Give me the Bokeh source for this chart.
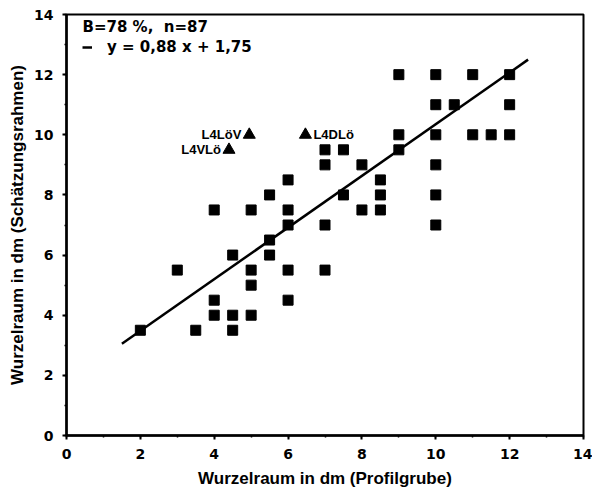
from bokeh.plotting import figure
from bokeh.models import Legend, LegendItem, Label, FixedTicker
from bokeh.embed import file_html
from bokeh.resources import INLINE
from bokeh.core.properties import value

# --- data ---
sq_x = [2, 3, 3.5, 4, 4, 4, 4.5, 4.5, 4.5, 5, 5, 5, 5, 5.5, 5.5, 5.5, 6, 6, 6, 6, 6,
        7, 7, 7, 7, 7.5, 7.5, 8, 8, 8.5, 8.5, 8.5, 9, 9, 9,
        10, 10, 10, 10, 10, 10, 10.5, 11, 11, 11.5, 12, 12, 12]
sq_y = [3.5, 5.5, 3.5, 4.5, 4, 7.5, 6, 4, 3.5, 5.5, 5, 4, 7.5, 6.5, 6, 8, 5.5, 4.5, 8.5, 7.5, 7,
        5.5, 9.5, 9, 7, 9.5, 8, 9, 7.5, 8.5, 8, 7.5, 12, 10, 9.5,
        12, 11, 10, 9, 8, 7, 11, 12, 10, 10, 12, 11, 10]

tri_x = [4.95, 4.4, 6.47]
tri_y = [10, 9.5, 10]
tri_labels = ["L4LöV", "L4VLö", "L4DLö"]

line_x = [1.5, 12.5]
line_y = [3.05, 12.5]

stats_text = "B=78 %,\u00a0\u00a0n=87"
eq_text = "y = 0,88 x + 1,75"

x_ticks = [0, 2, 4, 6, 8, 10, 12, 14]
y_ticks = [0, 2, 4, 6, 8, 10, 12, 14]

FONT = "Liberation Sans"
FONT2 = "DejaVu Sans"

TOP, BOTTOM = 14, 55
H = 490
FH = H - TOP - BOTTOM

p = figure(width=592, height=H, x_range=(0, 14), y_range=(0, 14),
           output_backend="svg", toolbar_location=None,
           min_border_left=66, min_border_right=9, min_border_top=TOP, min_border_bottom=BOTTOM)

p.xgrid.visible = False
p.ygrid.visible = False
p.outline_line_color = "black"
p.outline_line_width = 2
p.outline_line_alpha = 1

for ax in (p.xaxis[0], p.yaxis[0]):
    ax.axis_line_width = 2.5
    ax.axis_line_color = "black"
    ax.major_tick_line_color = "black"
    ax.major_tick_line_width = 2
    ax.major_tick_out = 4
    ax.major_tick_in = 0
    ax.minor_tick_line_color = "black"
    ax.minor_tick_line_width = 1.5
    ax.minor_tick_out = 2
    ax.minor_tick_in = 0
    ax.major_label_text_font = FONT2
    ax.major_label_text_font_style = "bold"
    ax.major_label_text_font_size = "14px"
    ax.major_label_text_color = "black"
    ax.axis_label_text_font = FONT
    ax.axis_label_text_font_style = "bold"
    ax.axis_label_text_color = "black"

p.xaxis[0].axis_label_text_font_size = "17px"
p.yaxis[0].axis_label_text_font_size = "17px"
p.xaxis[0].ticker = FixedTicker(ticks=x_ticks, minor_ticks=list(range(0, 15)))
p.yaxis[0].ticker = FixedTicker(ticks=y_ticks, minor_ticks=list(range(0, 15)))
p.xaxis[0].axis_label = "Wurzelraum in dm (Profilgrube)"
p.yaxis[0].axis_label = "Wurzelraum in dm (Schätzungsrahmen)"
p.xaxis[0].axis_label_standoff = 7
p.yaxis[0].axis_label_standoff = 4
p.xaxis[0].major_label_standoff = 9
p.yaxis[0].major_label_standoff = 9

reg = p.line(line_x, line_y, line_color="black", line_width=2.5)

p.scatter(sq_x, sq_y, marker="square", size=10, fill_color="black", line_color="black")
p.scatter(tri_x, tri_y, marker="triangle", size=12, fill_color="black", line_color="black")

p.text(tri_x[:2], tri_y[:2], text=tri_labels[:2], text_align="right", text_baseline="middle",
       x_offset=-8, text_font=value(FONT), text_font_style="bold", text_font_size="13px",
       text_color="black")
p.text(tri_x[2:], tri_y[2:], text=tri_labels[2:], text_align="left", text_baseline="middle",
       x_offset=8, text_font=value(FONT), text_font_style="bold", text_font_size="13px",
       text_color="black")

stats = Label(x=16, y=FH - 12, x_units="screen", y_units="screen", text=stats_text,
              text_font=FONT2, text_font_style="bold", text_font_size="15px",
              text_baseline="middle", text_color="black")
p.add_layout(stats)

legend = Legend(items=[LegendItem(label=eq_text, renderers=[reg])],
                location=(16, FH - 42), background_fill_alpha=0, border_line_alpha=0,
                padding=0, margin=0, glyph_width=10, glyph_height=14, label_standoff=15,
                label_height=14,
                label_text_font=FONT2, label_text_font_style="bold", label_text_font_size="15px",
                label_text_color="black")
p.add_layout(legend)

open("out.html", "w").write(file_html(p, INLINE))
